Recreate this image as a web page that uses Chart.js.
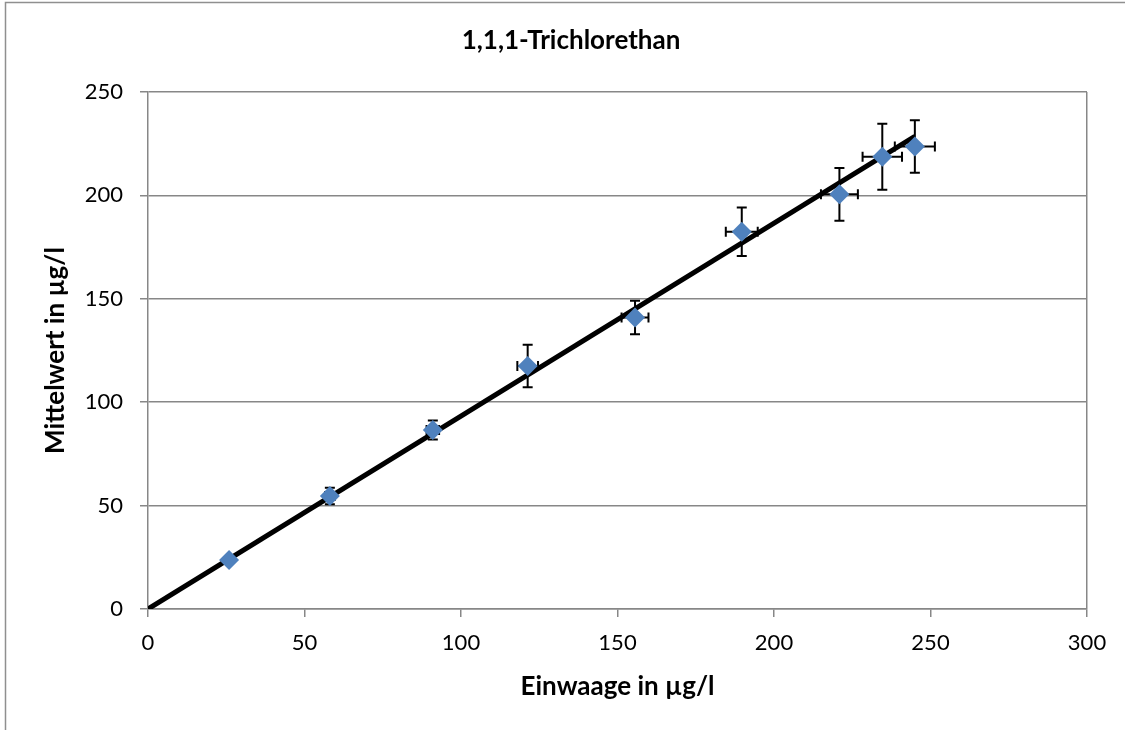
<!DOCTYPE html>
<html>
<head>
<meta charset="utf-8">
<script src="https://cdn.jsdelivr.net/npm/chart.js@4"></script>
<style>
  html, body { margin: 0; padding: 0; background: #fff; }
  #wrap { width: 1125px; height: 730px; }
</style>
</head>
<body>
<div id="wrap"><canvas id="chart" width="1125" height="730"></canvas></div>
<script>
// Messwerte
const einwaage   = [25.9, 58.1, 91.0, 121.3, 155.6, 189.7, 220.9, 234.6, 245.0];
const mittelwert = [23.7, 54.6, 86.6, 117.5, 141.0, 182.4, 200.5, 218.7, 223.6];
const xFehler    = [0.5, 1.5, 2.0, 3.3, 4.3, 5.1, 5.9, 6.3, 6.4];
const yFehler    = [1.0, 4.0, 4.6, 10.3, 8.1, 11.7, 12.8, 16.0, 12.7];

// Trendlinie (Endpunkte)
const trendX = [0, 245];
const trendY = [0, 228.6];

const xTicks = [0, 50, 100, 150, 200, 250, 300];
const yTicks = [0, 50, 100, 150, 200, 250];

const FONT = 'Lato, "Open Sans", sans-serif';
const GRID = '#878787';

const punkte = einwaage.map((x, i) => ({ x: x, y: mittelwert[i] }));
const trend = trendX.map((x, i) => ({ x: x, y: trendY[i] }));

// Fehlerbalken unter den Markern zeichnen
const fehlerbalken = {
  id: 'fehlerbalken',
  beforeDatasetDraw(chart, args) {
    if (args.index !== 0) return;
    const ctx = chart.ctx;
    const xs = chart.scales.x, ys = chart.scales.y;
    const cap = 5;
    ctx.save();
    ctx.strokeStyle = '#000';
    ctx.lineWidth = 2;
    einwaage.forEach((x, i) => {
      const px = xs.getPixelForValue(x);
      const py = ys.getPixelForValue(mittelwert[i]);
      const y1 = ys.getPixelForValue(mittelwert[i] + yFehler[i]);
      const y2 = ys.getPixelForValue(mittelwert[i] - yFehler[i]);
      const x1 = xs.getPixelForValue(x - xFehler[i]);
      const x2 = xs.getPixelForValue(x + xFehler[i]);
      ctx.beginPath();
      ctx.moveTo(px, y1); ctx.lineTo(px, y2);
      ctx.moveTo(px - cap, y1); ctx.lineTo(px + cap, y1);
      ctx.moveTo(px - cap, y2); ctx.lineTo(px + cap, y2);
      ctx.moveTo(x1, py); ctx.lineTo(x2, py);
      ctx.moveTo(x1, py - cap); ctx.lineTo(x1, py + cap);
      ctx.moveTo(x2, py - cap); ctx.lineTo(x2, py + cap);
      ctx.stroke();
    });
    ctx.restore();
  }
};

// Rahmen des Diagramms
const rahmen = {
  id: 'rahmen',
  beforeDraw(chart) {
    const ctx = chart.ctx;
    ctx.save();
    ctx.strokeStyle = '#8f8f8f';
    ctx.lineWidth = 1.5;
    ctx.beginPath();
    ctx.moveTo(5.5, 740);
    ctx.lineTo(5.5, 2.5);
    ctx.lineTo(1140, 2.5);
    ctx.stroke();
    ctx.restore();
  }
};

new Chart(document.getElementById('chart'), {
  type: 'scatter',
  data: {
    datasets: [
      {
        label: 'Mittelwert',
        data: punkte,
        order: 1,
        pointStyle: 'rectRot',
        pointRadius: 10,
        pointHoverRadius: 10,
        pointBackgroundColor: '#4F81BD',
        pointBorderColor: '#4F81BD',
        pointBorderWidth: 0,
        showLine: false
      },
      {
        label: 'Trend',
        data: trend,
        order: 2,
        showLine: true,
        borderColor: '#000',
        borderWidth: 5,
        pointRadius: 0,
        pointHoverRadius: 0,
        fill: false
      }
    ]
  },
  options: {
    responsive: false,
    animation: false,
    layout: { padding: { left: 17, right: 0, top: 0, bottom: 10 } },
    plugins: {
      legend: { display: false },
      tooltip: { enabled: false },
      title: {
        display: true,
        text: '1,1,1-Trichlorethan',
        color: '#000',
        font: { family: FONT, size: 26, weight: 'bold', lineHeight: 1.2 },
        padding: { top: 25.4, bottom: 35.4 }
      }
    },
    scales: {
      x: {
        type: 'linear',
        min: 0,
        max: 300,
        afterBuildTicks: s => { s.ticks = xTicks.map(v => ({ value: v })); },
        afterFit: s => { s.height = 111; },
        grid: {
          drawOnChartArea: true,
          color: c => (c.tick && c.tick.value === 300 ? GRID : 'rgba(0,0,0,0)'),
          tickColor: GRID,
          lineWidth: 1.5,
          tickLength: 8
        },
        border: { display: true, color: GRID, width: 1.5 },
        ticks: { color: '#000', padding: 13, font: { family: FONT, size: 22 } },
        title: {
          display: true,
          text: 'Einwaage in µg/l',
          color: '#000',
          font: { family: FONT, size: 26, weight: 'bold', lineHeight: 1.2 },
          padding: { top: 0, bottom: 17.4 }
        }
      },
      y: {
        type: 'linear',
        min: 0,
        max: 250,
        afterBuildTicks: s => { s.ticks = yTicks.map(v => ({ value: v })); },
        afterFit: s => { s.width = 131; },
        grid: { color: GRID, tickColor: GRID, lineWidth: 1.5, tickLength: 8 },
        border: { display: true, color: GRID, width: 1.5 },
        ticks: { color: '#000', padding: 17, font: { family: FONT, size: 22 } },
        title: {
          display: true,
          text: 'Mittelwert in µg/l',
          color: '#000',
          font: { family: FONT, size: 26, weight: 'bold', lineHeight: 1.2 },
          padding: { top: 23.4, bottom: 0 }
        }
      },
      rechts: {
        type: 'linear',
        position: 'right',
        display: true,
        afterFit: s => { s.width = 38; },
        grid: { display: false },
        border: { display: false },
        ticks: { display: false }
      }
    }
  },
  plugins: [fehlerbalken, rahmen]
});
</script>
</body>
</html>
